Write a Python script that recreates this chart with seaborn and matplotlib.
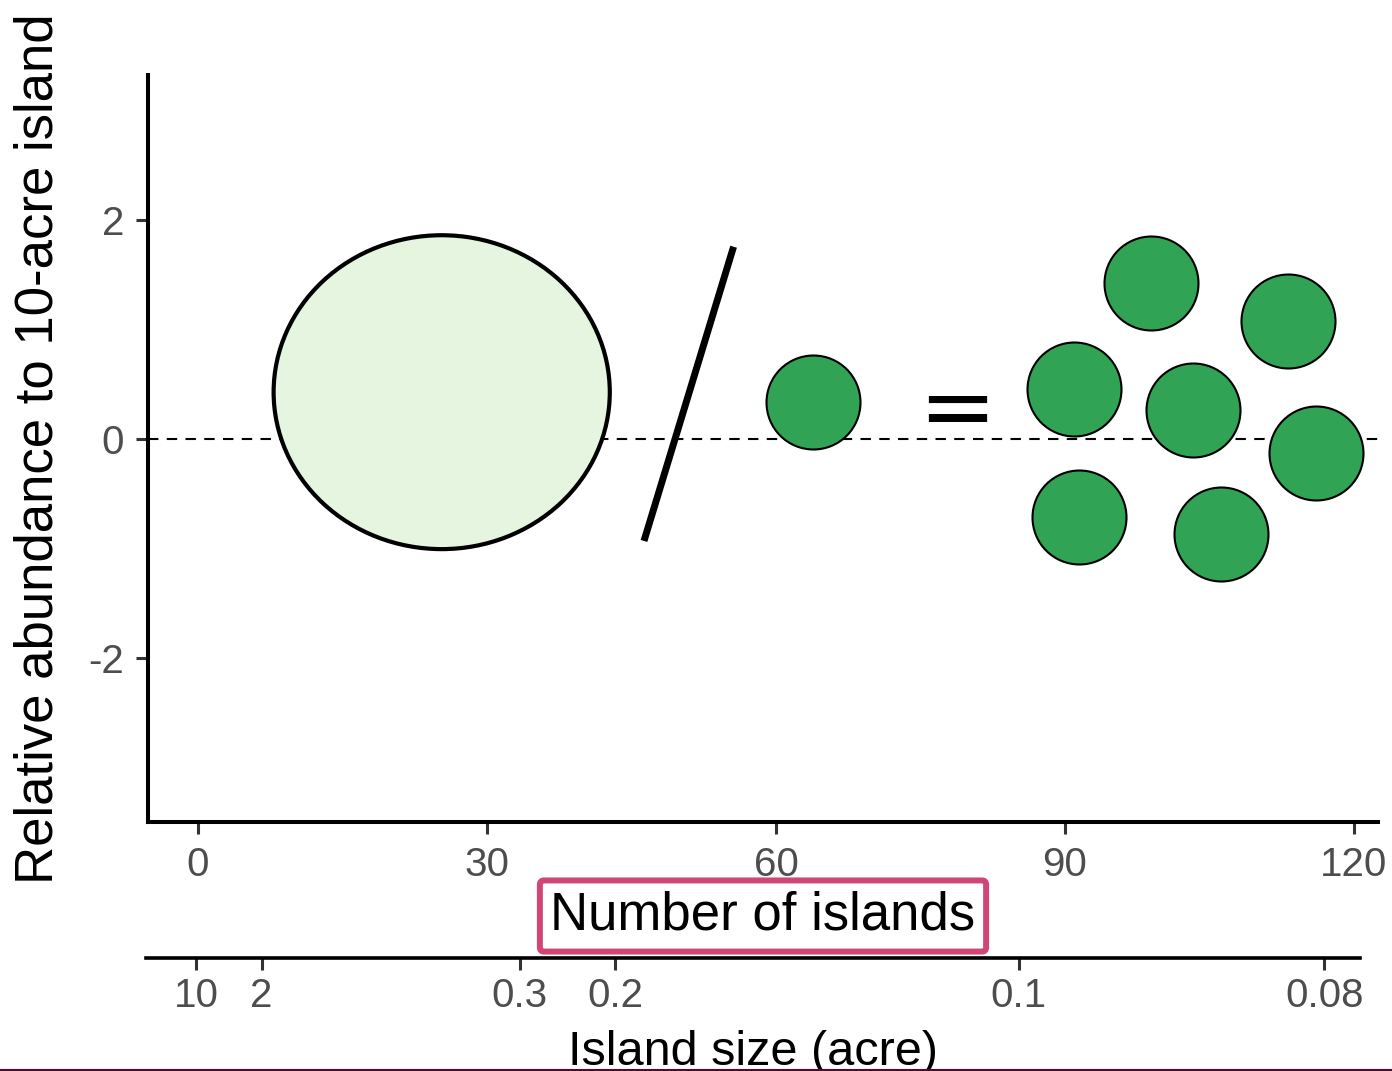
import matplotlib.pyplot as plt
import seaborn as sns
from matplotlib.lines import Line2D
from matplotlib.patches import Ellipse
from matplotlib.transforms import blended_transform_factory

# one small island on its own, then the seven that add up to the big one
small_x = [63.8, 98.9, 113.2, 90.9, 103.3, 116.1, 91.5, 106.2]
small_y = [0.34, 1.43, 1.08, 0.46, 0.27, -0.13, -0.71, -0.87]

# the big 10-acre island (centre, width, height in data units)
big_x, big_y = 25.3, 0.43
big_w, big_h = 34.9, 2.87

# the "/" and "=" of the picture equation
slash_x = [46.3, 55.6]
slash_y = [-0.93, 1.76]
equals_x, equals_y = 78.8, 0.25

x_ticks = [0, 30, 60, 90, 120]
y_ticks = [-2, 0, 2]

# second axis: island size in acres, placed along the number-of-islands scale
size_labels = ["10", "2", "0.3", "0.2", "0.1", "0.08"]
size_pos = [-0.2, 6.6, 33.4, 43.3, 85.2, 116.9]

W, H = 1392, 1071

sns.set_theme(style="ticks")
plt.rcParams["font.family"] = ["Liberation Sans", "DejaVu Sans"]
plt.rcParams["axes.unicode_minus"] = False
plt.rcParams["text.color"] = "black"
plt.rcParams["axes.labelcolor"] = "black"

fig = plt.figure(figsize=(W / 100, H / 100), dpi=100)
ax = fig.add_axes([148 / W, 1 - 822 / H, 1230 / W, 747 / H])

ax.axhline(0, color="black", lw=1.5, ls=(0, (5, 4)), zorder=1)
ax.add_patch(Ellipse((big_x, big_y), big_w, big_h, fc="#E5F5E0", ec="black", lw=3, zorder=2))
ax.plot(slash_x, slash_y, color="black", lw=5, solid_capstyle="butt", zorder=3)
sns.scatterplot(x=small_x, y=small_y, s=4580, color="#31A354", edgecolor="black",
                linewidth=1.5, ax=ax, zorder=3, legend=False)
ax.text(equals_x, equals_y, "=", fontsize=67, family="DejaVu Sans",
        ha="center", va="center", color="black")

ax.set_xlim(-5.19, 122.5)
ax.set_ylim(-3.5, 3.33)
ax.set_xticks(x_ticks)
ax.set_yticks(y_ticks)
sns.despine(ax=ax)
for side in ["left", "bottom"]:
    ax.spines[side].set_linewidth(2.9)
    ax.spines[side].set_color("black")
ax.tick_params(length=8.6, width=2.2, color="#333333", labelcolor="#4D4D4D",
               labelsize=29, pad=8.6)

ax.set_xlabel("Number of islands", fontsize=38, color="black",
              bbox=dict(boxstyle="round,pad=0.2,rounding_size=0.08", fc="white",
                        ec="#D24677", lw=4.3))
ax.xaxis.set_label_coords(0.5, 1 - 916 / H,
                          transform=blended_transform_factory(ax.transAxes, fig.transFigure))
ax.xaxis.label.set_va("center")

ax.set_ylabel("Relative abundance to 10-acre island", fontsize=38, color="black")
ax.yaxis.set_label_coords(53 / W, 0.5,
                          transform=blended_transform_factory(fig.transFigure, ax.transAxes))
ax.yaxis.label.set_va("baseline")

# secondary axis with island size
ax2 = fig.add_axes([146 / W, 1 - 958 / H, 1214 / W, 0.0001])
ax2.set_facecolor("none")
ax2.set_xlim(-5.4, 120.6)
ax2.set_xticks(size_pos, size_labels)
ax2.set_yticks([])
for side in ["left", "right", "top"]:
    ax2.spines[side].set_visible(False)
ax2.spines["bottom"].set_linewidth(2.6)
ax2.spines["bottom"].set_color("black")
ax2.tick_params(axis="x", length=8.6, width=2.2, color="#333333", labelcolor="#4D4D4D",
                labelsize=29, pad=5)
ax2.set_xlabel("Island size (acre)", fontsize=35, color="black")
ax2.xaxis.set_label_coords(0.5, 1 - 1065 / H,
                           transform=blended_transform_factory(ax2.transAxes, fig.transFigure))
ax2.xaxis.label.set_va("baseline")

fig.add_artist(Line2D([0, 1], [0.001, 0.001], transform=fig.transFigure,
                      color="#4A0E2C", lw=1.5))

fig.savefig("out.png", dpi=100)
